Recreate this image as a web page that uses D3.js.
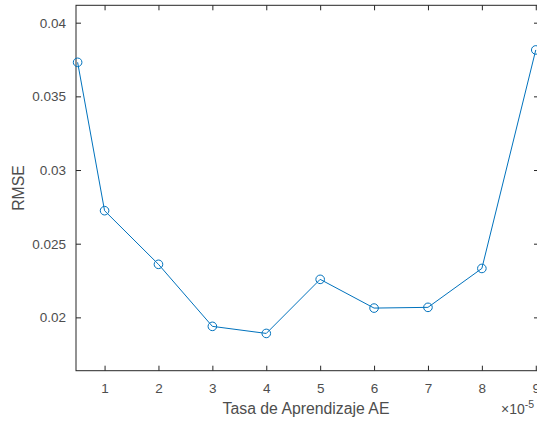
<!DOCTYPE html>
<html><head><meta charset="utf-8">
<script src="https://cdn.jsdelivr.net/npm/d3@7"></script>
<style>body{margin:0;background:#fff}svg{display:block}text{font-family:"Liberation Sans",Arial,sans-serif}</style>
</head><body><svg id="c" width="537" height="421"></svg>
<script>
const xValues = [0.5, 1, 2, 3, 4, 5, 6, 7, 8, 9];
const rmse = [0.03731, 0.02724, 0.0236, 0.01939, 0.01891, 0.02258, 0.02063, 0.02068, 0.02332, 0.03815];
const xTicks = [1, 2, 3, 4, 5, 6, 7, 8, 9];
const yTicks = [0.02, 0.025, 0.03, 0.035, 0.04];
const yTickLabels = ["0.02", "0.025", "0.03", "0.035", "0.04"];

const svg = d3.select("#c");
const L = 76, R = 539, T = 5.3, B = 370.7;
const x = d3.scaleLinear().domain([0.47, 9.06]).range([L, R]);
const y = d3.scaleLinear().domain([0.01638, 0.04118]).range([B, T]);
const axisCol = "#262626", textCol = "#4d4d4d", lineCol = "#0072BD";

const g = svg.append("g");
g.append("rect").attr("x", L).attr("y", T).attr("width", R - L).attr("height", B - T)
  .attr("fill", "none").attr("stroke", axisCol).attr("stroke-width", 1);

const fmtY = d => yTickLabels[yTicks.indexOf(d)];
const tl = 5;
const xb = g.append("g").attr("transform", `translate(0,${B})`)
  .call(d3.axisBottom(x).tickValues(xTicks).tickSizeInner(-tl).tickSizeOuter(0).tickPadding(13).tickFormat(d3.format("d")));
const xt = g.append("g").attr("transform", `translate(0,${T})`)
  .call(d3.axisTop(x).tickValues(xTicks).tickSizeInner(-tl).tickSizeOuter(0).tickFormat(""));
const yl = g.append("g").attr("transform", `translate(${L},0)`)
  .call(d3.axisLeft(y).tickValues(yTicks).tickSizeInner(-tl).tickSizeOuter(0).tickPadding(10).tickFormat(fmtY));
const yr = g.append("g").attr("transform", `translate(${R},0)`)
  .call(d3.axisRight(y).tickValues(yTicks).tickSizeInner(-tl).tickSizeOuter(0).tickFormat(""));
[xb, xt, yl, yr].forEach(a => {
  a.select(".domain").remove();
  a.selectAll("line").attr("stroke", axisCol);
  a.selectAll("text").attr("fill", textCol).style("font-size", "13.5px").style("font-family", '"Liberation Sans",Arial,sans-serif');
});

const line = d3.line().x((d, i) => x(xValues[i])).y(d => y(d));
g.append("path").datum(rmse).attr("d", line).attr("fill", "none").attr("stroke", lineCol).attr("stroke-width", 1);
g.selectAll("circle.pt").data(rmse).join("circle").attr("class", "pt")
  .attr("cx", (d, i) => x(xValues[i])).attr("cy", d => y(d)).attr("r", 4.3)
  .attr("fill", "none").attr("stroke", lineCol).attr("stroke-width", 1);

svg.append("text").attr("x", 306).attr("y", 414).attr("text-anchor", "middle")
  .attr("fill", textCol).style("font-size", "15.8px").text("Tasa de Aprendizaje AE");
svg.append("text").attr("transform", "translate(24,188) rotate(-90)").attr("text-anchor", "middle")
  .attr("fill", textCol).style("font-size", "15.8px").text("RMSE");
const ex = svg.append("text").attr("x", 501).attr("y", 414).attr("fill", textCol).style("font-size", "14px");
ex.append("tspan").text("×10");
ex.append("tspan").attr("dy", -6).style("font-size", "10.5px").text("-5");
</script></body></html>
